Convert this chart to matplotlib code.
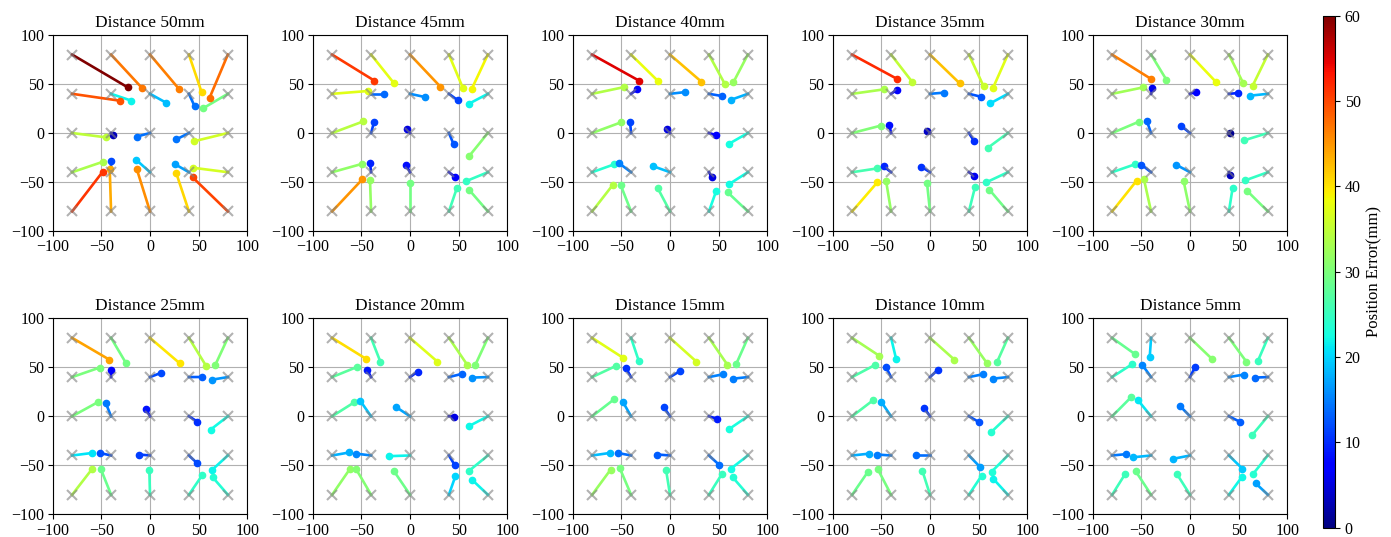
import numpy as np
import matplotlib
matplotlib.use("Agg")
import matplotlib.pyplot as plt
from matplotlib.colors import Normalize

plt.rcParams['font.family'] = ['Liberation Serif', 'DejaVu Serif']

# target grid (mm), row by row from top
target_x = [-80, -40, 0, 40, 80] * 5
target_y = [80] * 5 + [40] * 5 + [0] * 5 + [-40] * 5 + [-80] * 5

distances = [50, 45, 40, 35, 30, 25, 20, 15, 10, 5]

# predicted positions, one row per distance, same order as the targets
pred_x = [
    [-22.9, -7.9, 30.1, 53.1, 61.3, -31.2, -19.2, 16.4, 45.9, 54.5, -45.5, -37.7, -13.7, 27.1, 44.9,
     -48.3, -40.1, -14.4, 25.3, 43.8, -48.6, -41.4, -13.7, 27.1, 43.8],
    [-36.6, -16.4, 31.2, 54.5, 63.4, -42.8, -26.4, 15.4, 49.3, 60.6, -47.9, -37.0, -2.7, 44.9, 60.6,
     -49.7, -41.1, -4.1, 45.9, 57.2, -49.0, -41.1, 0.0, 48.3, 60.6],
    [-31.8, -12.7, 32.2, 56.2, 65.1, -46.9, -34.0, 15.8, 53.1, 63.0, -50.3, -41.1, -2.7, 46.9, 60.3,
     -57.5, -52.1, -17.8, 42.8, 61.0, -58.9, -50.7, -12.7, 47.6, 59.2],
    [-34.2, -18.5, 30.5, 55.1, 64.7, -46.9, -34.0, 14.7, 52.1, 62.0, -50.7, -41.8, -3.4, 45.5, 59.2,
     -54.1, -47.6, -8.9, 44.9, 57.9, -54.1, -45.2, -3.1, 46.2, 61.0],
    [-40.4, -24.3, 26.4, 54.8, 64.4, -47.9, -38.7, 6.5, 49.7, 61.6, -52.4, -44.5, -8.9, 41.1, 55.5,
     -56.8, -49.9, -14.4, 40.8, 56.8, -54.8, -47.3, -6.5, 43.8, 58.9],
    [-41.8, -25.0, 30.5, 57.9, 67.1, -51.7, -40.1, 11.0, 53.1, 64.0, -53.8, -45.5, -4.1, 48.6, 62.3,
     -59.2, -51.7, -11.0, 48.6, 63.7, -59.2, -50.7, -0.7, 53.8, 64.4],
    [-45.5, -30.5, 28.1, 58.9, 67.1, -54.5, -44.2, 7.9, 53.1, 64.0, -57.2, -51.0, -14.4, 45.2, 60.3,
     -62.3, -55.5, -21.9, 45.9, 61.0, -62.0, -55.5, -16.4, 46.6, 64.0],
    [-48.6, -32.2, 27.1, 58.9, 68.2, -55.5, -45.2, 9.9, 54.8, 65.1, -57.5, -48.6, -6.5, 48.6, 61.0,
     -61.6, -53.8, -13.0, 50.3, 62.3, -61.0, -51.7, -4.1, 53.4, 64.4],
    [-52.4, -34.9, 25.0, 58.6, 68.8, -56.5, -45.5, 7.9, 54.5, 64.7, -58.6, -50.0, -6.2, 50.7, 62.7,
     -62.3, -54.8, -14.0, 51.7, 63.4, -63.7, -53.8, -7.9, 53.1, 65.1],
    [-56.8, -41.4, 22.3, 57.9, 69.9, -59.6, -49.0, 5.1, 55.1, 66.4, -60.6, -53.4, -10.3, 51.7, 63.7,
     -65.4, -58.2, -17.8, 53.8, 65.1, -66.4, -55.8, -13.7, 53.1, 67.5],
]
pred_y = [
    [46.6, 45.6, 44.6, 41.5, 36.1, 33.0, 33.0, 31.0, 27.2, 25.2, -4.4, -2.0, -3.7, -6.5, -8.5,
     -29.3, -28.2, -27.2, -31.6, -35.4, -39.5, -36.4, -36.4, -41.2, -45.2],
    [53.4, 50.7, 47.3, 45.6, 44.9, 42.9, 40.0, 36.7, 33.3, 29.9, 11.9, 10.9, 4.4, -11.6, -23.8,
     -31.6, -30.5, -32.7, -44.6, -49.3, -47.3, -48.3, -50.7, -55.8, -57.8],
    [53.4, 53.4, 52.4, 50.3, 51.7, 46.9, 44.6, 41.8, 37.8, 34.0, 10.9, 11.6, 4.4, -2.0, -11.2,
     -32.0, -31.0, -33.7, -44.6, -52.0, -53.1, -53.1, -56.1, -58.8, -60.5],
    [55.4, 52.4, 50.7, 47.6, 45.9, 44.6, 44.2, 41.2, 37.1, 30.3, 7.5, 8.2, 2.0, -8.5, -15.3,
     -36.1, -34.0, -34.4, -43.4, -50.3, -50.3, -48.6, -50.7, -55.4, -57.8],
    [55.4, 54.4, 52.4, 50.7, 48.3, 46.6, 45.6, 42.2, 40.8, 38.1, 11.6, 12.6, 7.1, 0.0, -7.5,
     -32.0, -32.3, -32.3, -43.1, -48.3, -48.6, -47.3, -49.3, -56.1, -59.2],
    [57.8, 54.8, 54.1, 51.0, 52.4, 49.7, 47.3, 44.2, 40.1, 37.4, 14.3, 13.6, 7.5, -5.4, -13.6,
     -37.4, -37.4, -39.0, -48.0, -54.8, -53.4, -53.4, -54.8, -59.9, -62.2],
    [58.8, 55.8, 55.8, 52.4, 52.4, 50.3, 47.6, 45.6, 43.2, 39.5, 14.3, 15.6, 9.5, -0.3, -10.2,
     -36.9, -38.1, -40.7, -49.7, -55.4, -54.1, -53.7, -56.1, -61.2, -65.0],
    [59.9, 56.8, 55.8, 52.7, 53.7, 51.4, 49.0, 45.9, 42.9, 38.4, 17.3, 15.0, 9.5, -2.7, -12.9,
     -37.4, -37.4, -39.0, -49.3, -53.7, -54.4, -52.7, -54.4, -58.8, -62.2],
    [61.9, 58.8, 57.8, 54.1, 55.1, 52.4, 50.7, 47.3, 42.9, 38.4, 16.3, 14.6, 8.8, -6.1, -16.3,
     -38.1, -39.0, -40.0, -52.0, -56.5, -56.5, -53.7, -55.4, -60.5, -63.9],
    [63.6, 60.5, 58.8, 55.8, 56.8, 53.1, 52.4, 50.0, 42.5, 39.5, 19.4, 16.3, 10.5, -5.8, -19.4,
     -38.6, -41.8, -43.5, -53.4, -58.5, -58.5, -56.1, -58.5, -62.2, -68.4],
]

cmap = plt.get_cmap('jet')
norm = Normalize(vmin=0, vmax=60)

fig = plt.figure(figsize=(13.91, 5.37), dpi=100)

ax_w, ax_h = 0.1399, 0.365
lefts = [(52.7 + 260 * i) / 1391 for i in range(5)]
bottoms = [0.5698, 0.0423]

tx = np.array(target_x)
ty = np.array(target_y)

for k, d in enumerate(distances):
    ax = fig.add_axes([lefts[k % 5], bottoms[k // 5], ax_w, ax_h])
    px = np.array(pred_x[k])
    py = np.array(pred_y[k])
    # colour = distance between target and prediction
    err = np.sqrt((px - tx) ** 2 + (py - ty) ** 2)
    for i in range(len(tx)):
        c = cmap(norm(err[i]))
        ax.plot([tx[i], px[i]], [ty[i], py[i]], color=c, lw=1.9, zorder=2)
        ax.plot(px[i], py[i], 'o', color=c, ms=4.5, zorder=3)
    ax.plot(tx, ty, 'x', color='gray', ms=7, mew=1.5, alpha=0.6, zorder=4)
    ax.set_xlim(-100, 100)
    ax.set_ylim(-100, 100)
    ax.set_xticks([-100, -50, 0, 50, 100])
    ax.set_yticks([-100, -50, 0, 50, 100])
    ax.tick_params(labelsize=11.5, pad=2.5)
    ax.grid(True, color='#b0b0b0', lw=0.8, zorder=0)
    ax.set_axisbelow(True)
    ax.set_title(f'Distance {d}mm', fontsize=12.5)

cax = fig.add_axes([0.9513, 0.0173, 0.0084, 0.9535])
sm = plt.cm.ScalarMappable(norm=norm, cmap=cmap)
cb = fig.colorbar(sm, cax=cax)
cb.set_ticks([0, 10, 20, 30, 40, 50, 60])
cb.ax.tick_params(labelsize=11.5)
cb.set_label('Position Error(mm)', fontsize=12)

fig.savefig('out.png', dpi=100)
